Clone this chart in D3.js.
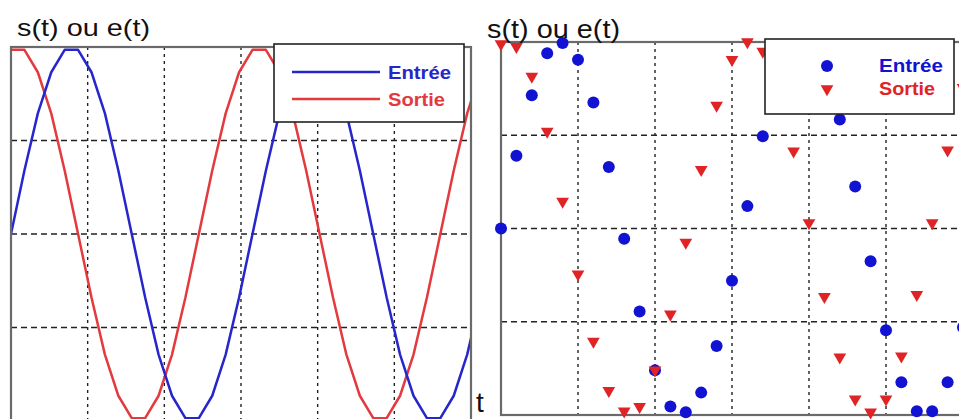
<!DOCTYPE html>
<html>
<head>
<meta charset="utf-8">
<script src="https://cdn.jsdelivr.net/npm/d3@7"></script>
<style>
  html, body { margin: 0; padding: 0; background: #fff; }
  svg { display: block; font-family: "Liberation Sans", Arial, sans-serif; }
  .grid-v { stroke: #222; stroke-width: 1.4; stroke-dasharray: 3,4; }
  .grid-h { stroke: #222; stroke-width: 1.4; stroke-dasharray: 6,4; }
  .frame { fill: none; stroke: #6a6a6a; stroke-width: 2.2; }
  .legend-box { fill: #fff; stroke: #222; stroke-width: 1.6; }
</style>
</head>
<body>
<div class="container"></div>
<script>
// left panel: sampled time (divisions) and values
var tLeft = [0, 0.175, 0.35, 0.525, 0.7, 0.875, 1.05, 1.225, 1.4, 1.575, 1.75, 1.925,
    2.1, 2.275, 2.45, 2.625, 2.8, 2.975, 3.15, 3.325, 3.5, 3.675, 3.85, 4.025,
    4.2, 4.375, 4.55, 4.725, 4.9, 5.075, 5.25, 5.425, 5.6, 5.775, 5.95, 6.125];
var entreeLeft = [0, 0.68, 1.29, 1.73, 1.97, 1.97, 1.73, 1.29, 0.68, 0, -0.68, -1.29,
    -1.73, -1.97, -1.97, -1.73, -1.29, -0.68, 0, 0.68, 1.29, 1.73, 1.97, 1.97,
    1.73, 1.29, 0.68, 0, -0.68, -1.29, -1.73, -1.97, -1.97, -1.73, -1.29, -0.68];
var sortieLeft = [1.97, 1.97, 1.73, 1.29, 0.68, 0, -0.68, -1.29, -1.73, -1.97, -1.97, -1.73,
    -1.29, -0.68, 0, 0.68, 1.29, 1.73, 1.97, 1.97, 1.73, 1.29, 0.68, 0,
    -0.68, -1.29, -1.73, -1.97, -1.97, -1.73, -1.29, -0.68, 0, 0.68, 1.29, 1.73];

// right panel: points
var tRight = [0, 0.2, 0.4, 0.6, 0.8, 1.0, 1.2, 1.4, 1.6, 1.8, 2.0, 2.2, 2.4, 2.6, 2.8, 3.0,
    3.2, 3.4, 3.6, 3.8, 4.0, 4.2, 4.4, 4.6, 4.8, 5.0, 5.2, 5.4, 5.6, 5.8, 6.0];
var entreeRight = [0, 0.78, 1.43, 1.88, 1.99, 1.81, 1.35, 0.66, -0.11, -0.89, -1.52, -1.91,
    -1.97, -1.76, -1.26, -0.56, 0.24, 0.99, 1.62, 1.96, 1.95, 1.65, 1.17, 0.45,
    -0.35, -1.09, -1.65, -1.96, -1.96, -1.65, -1.06];
var sortieRight = [1.98, 1.95, 1.63, 1.04, 0.29, -0.49, -1.21, -1.74, -1.96, -1.91, -1.52, -0.92,
    -0.15, 0.63, 1.32, 1.81, 2.00, 1.90, 1.55, 0.83, 0.06, -0.73, -1.38, -1.83,
    -1.97, -1.83, -1.37, -0.71, 0.06, 0.84, 1.51];

var xGrid = [1, 2, 3, 4, 5];
var yGrid = [-1, 0, 1];
var seriesNames = ['Entrée', 'Sortie'];
var titleText = 's(t) ou e(t)';
var axisLabel = 't';

const WIDTH = 959;
const HEIGHT = 419;
const BLUE = '#2626cc';
const RED = '#e23a3e';
const DOT_BLUE = '#1212d2';
const DOT_RED = '#e02426';

let svg = d3.select('.container').append('svg')
    .attr('width', WIDTH)
    .attr('height', HEIGHT);

let xL = d3.scaleLinear().domain([0, 6]).range([11, 471]);
let yL = d3.scaleLinear().domain([-2, 2]).range([421, 47]);
let xR = d3.scaleLinear().domain([0, 6]).range([501, 963]);
let yR = d3.scaleLinear().domain([-2, 2]).range([415, 42]);

let drawGrid = function (g, x, y) {
    g.append('g').selectAll('line')
        .data(xGrid)
        .enter().append('line')
        .attr('class', 'grid-v')
        .attr('x1', d => x(d)).attr('x2', d => x(d))
        .attr('y1', y(2)).attr('y2', y(-2));
    g.append('g').selectAll('line')
        .data(yGrid)
        .enter().append('line')
        .attr('class', 'grid-h')
        .attr('x1', x(0)).attr('x2', x(6))
        .attr('y1', d => y(d)).attr('y2', d => y(d));
};

let drawFrame = function (g, x, y) {
    g.append('rect')
        .attr('class', 'frame')
        .attr('x', x(0)).attr('y', y(2))
        .attr('width', x(6) - x(0))
        .attr('height', y(-2) - y(2));
};

let drawTitle = function (x, y, size) {
    svg.append('text')
        .attr('x', x).attr('y', y)
        .attr('font-size', size)
        .attr('textLength', 133)
        .attr('lengthAdjust', 'spacingAndGlyphs')
        .attr('fill', '#111')
        .text(titleText);
};

// ---------- left panel ----------
let left = svg.append('g');
svg.append('clipPath').attr('id', 'clipL')
    .append('rect')
    .attr('x', xL(0)).attr('y', yL(2))
    .attr('width', xL(6) - xL(0)).attr('height', yL(-2) - yL(2));

drawGrid(left, xL, yL);

let line = d3.line()
    .x(d => xL(d[0]))
    .y(d => yL(d[1]));

let curves = left.append('g').attr('clip-path', 'url(#clipL)');
curves.append('path')
    .attr('d', line(d3.zip(tLeft, sortieLeft)))
    .attr('fill', 'none').attr('stroke', RED).attr('stroke-width', 2.5)
    .attr('stroke-linejoin', 'round');
curves.append('path')
    .attr('d', line(d3.zip(tLeft, entreeLeft)))
    .attr('fill', 'none').attr('stroke', BLUE).attr('stroke-width', 2.5)
    .attr('stroke-linejoin', 'round');

drawFrame(left, xL, yL);

let legL = left.append('g');
legL.append('rect').attr('class', 'legend-box')
    .attr('x', 274).attr('y', 44).attr('width', 190).attr('height', 78);
[BLUE, RED].forEach((c, i) => {
    let ly = 72 + i * 27;
    legL.append('line')
        .attr('x1', 292).attr('x2', 380)
        .attr('y1', ly).attr('y2', ly)
        .attr('stroke', c).attr('stroke-width', 2.4);
    legL.append('text')
        .attr('x', 388).attr('y', ly + 7)
        .attr('font-size', 19)
        .attr('font-weight', 'bold')
        .attr('textLength', i === 0 ? 63 : 57)
        .attr('lengthAdjust', 'spacingAndGlyphs')
        .attr('fill', c)
        .text(seriesNames[i]);
});

drawTitle(17, 36, 24);

svg.append('text')
    .attr('x', 476).attr('y', 412)
    .attr('font-size', 28)
    .attr('fill', '#111')
    .text(axisLabel);

// ---------- right panel ----------
let right = svg.append('g');
drawGrid(right, xR, yR);
drawFrame(right, xR, yR);

let tri = d3.symbol().type(d3.symbolTriangle).size(70);

right.append('g').selectAll('circle')
    .data(d3.zip(tRight, entreeRight))
    .enter().append('circle')
    .attr('r', 6)
    .attr('cx', d => xR(d[0]))
    .attr('cy', d => yR(d[1]))
    .attr('fill', DOT_BLUE);

right.append('g').selectAll('path')
    .data(d3.zip(tRight, sortieRight))
    .enter().append('path')
    .attr('d', tri)
    .attr('transform', d => `translate(${xR(d[0])},${yR(d[1])}) rotate(180)`)
    .attr('fill', DOT_RED);

let legR = right.append('g');
legR.append('rect').attr('class', 'legend-box')
    .attr('x', 765).attr('y', 39).attr('width', 189).attr('height', 75);
legR.append('circle')
    .attr('cx', 827).attr('cy', 66).attr('r', 6)
    .attr('fill', DOT_BLUE);
legR.append('path')
    .attr('d', tri)
    .attr('transform', 'translate(827,89) rotate(180)')
    .attr('fill', DOT_RED);
[DOT_BLUE, DOT_RED].forEach((c, i) => {
    legR.append('text')
        .attr('x', 879).attr('y', 72 + i * 23)
        .attr('font-size', 19)
        .attr('font-weight', 'bold')
        .attr('textLength', i === 0 ? 64 : 56)
        .attr('lengthAdjust', 'spacingAndGlyphs')
        .attr('fill', c)
        .text(seriesNames[i]);
});

drawTitle(487, 38, 25);
</script>
</body>
</html>
